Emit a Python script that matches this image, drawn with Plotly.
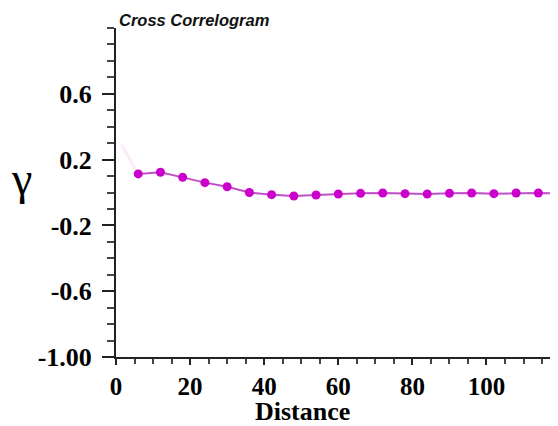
import plotly.graph_objects as go

# Data
lag_distance = [6, 12, 18, 24, 30, 36, 42, 48, 54, 60, 66, 72, 78, 84, 90, 96, 102, 108, 114, 120]
gamma_values = [0.113, 0.123, 0.092, 0.060, 0.035, 0.000, -0.013, -0.021, -0.015, -0.009,
                -0.005, -0.003, -0.007, -0.009, -0.005, -0.003, -0.007, -0.003, -0.003, -0.005]
ghost_x = [1.5, 6]
ghost_y = [0.29, 0.113]

y_tickvals = [-1.0, -0.6, -0.2, 0.2, 0.6]
y_ticktext = ["-1.00", "-0.6", "-0.2", "0.2", "0.6"]
x_tickvals = [0, 20, 40, 60, 80, 100]
x_ticktext = ["0", "20", "40", "60", "80", "100"]

serif = "Liberation Serif, Times New Roman, serif"

fig = go.Figure()
fig.add_trace(go.Scatter(x=ghost_x, y=ghost_y, mode="lines",
                         line=dict(color="rgba(204,0,204,0.08)", width=3),
                         hoverinfo="skip", showlegend=False))
fig.add_trace(go.Scatter(
    x=lag_distance, y=gamma_values, mode="lines+markers",
    line=dict(color="#c050c8", width=2),
    marker=dict(color="#cc00cc", size=9),
    showlegend=False,
))

axis_common = dict(showgrid=False, zeroline=False, showline=True, automargin=False,
                   linecolor="#222222", linewidth=2, ticks="outside",
                   tickcolor="#222222", tickwidth=2)

fig.update_xaxes(range=[0, 119.3], tickvals=x_tickvals, ticktext=x_ticktext,
                 ticklen=6,
                 tickfont=dict(family=serif, size=25, color="black", weight="bold"),
                 minor=dict(dtick=5, tick0=0, ticklen=5, tickcolor="#444444", tickwidth=1.5, ticks="outside"),
                 **axis_common)
fig.update_yaxes(range=[-1.0, 1.0], tickvals=y_tickvals, ticktext=y_ticktext,
                 ticklen=12, ticklabelstandoff=5,
                 tickfont=dict(family=serif, size=26, color="black", weight="bold"),
                 minor=dict(dtick=0.1, tick0=0, ticklen=7, tickcolor="#444444", tickwidth=1.5, ticks="outside"),
                 **axis_common)

fig.add_annotation(text="Cross Correlogram", x=0.002, y=1.024, xref="paper", yref="paper",
                   xanchor="left", yanchor="middle", showarrow=False,
                   font=dict(family="Liberation Sans, Arial, sans-serif", size=16.5, color="#111111",
                             weight="bold", style="italic"))
fig.add_annotation(text="Distance", x=0.423, y=-0.166, xref="paper", yref="paper",
                   xanchor="center", yanchor="middle", showarrow=False,
                   font=dict(family=serif, size=26, color="black", weight="bold"))
fig.add_annotation(text="γ", x=-0.2127, y=0.544, xref="paper", yref="paper",
                   xanchor="center", yanchor="middle", showarrow=False,
                   font=dict(family=serif, size=46, color="black"))

# page body has an 8px default margin, so the figure is sized to fill the rest of the window
fig.update_layout(width=550, height=418, margin=dict(l=108, r=0, t=20, b=69),
                  paper_bgcolor="white", plot_bgcolor="white")

fig.write_html("out.html")
